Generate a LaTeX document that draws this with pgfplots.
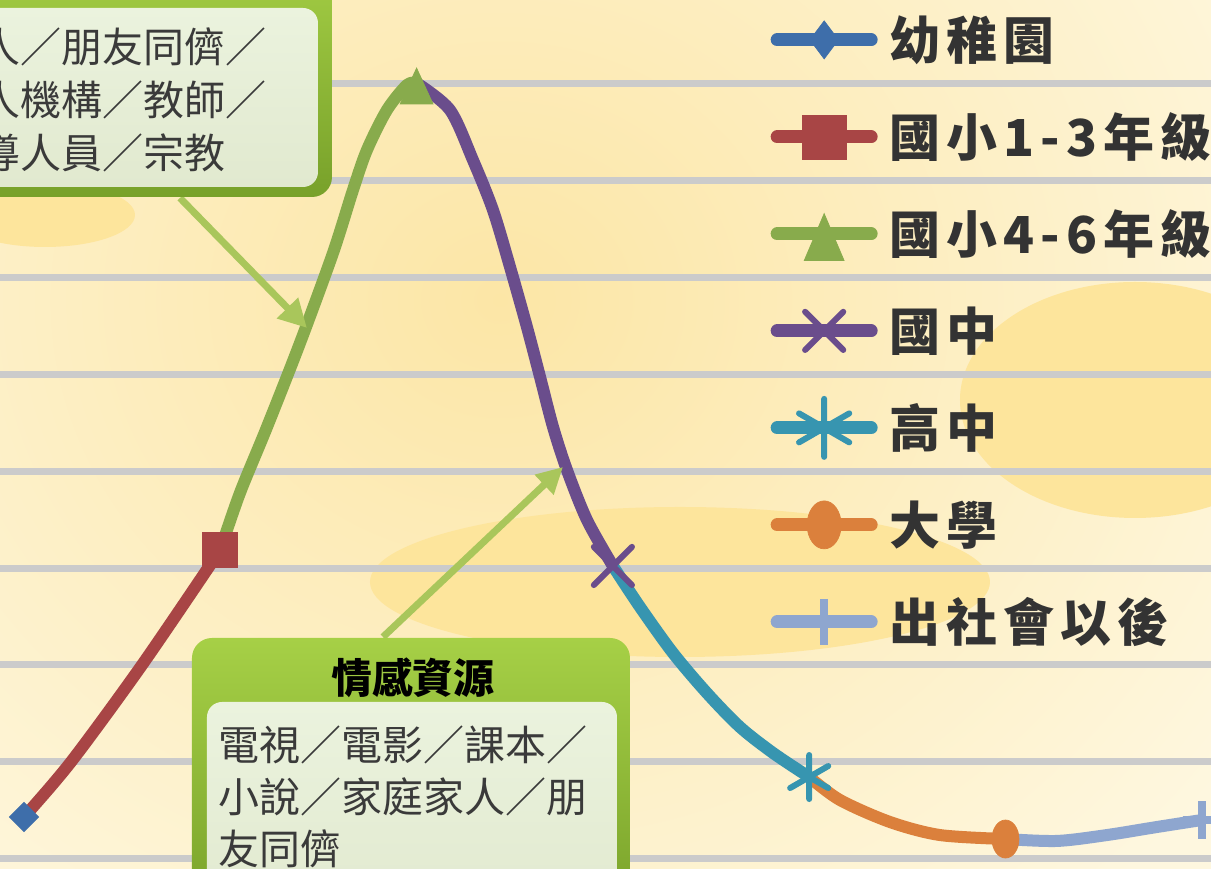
\documentclass[border=0pt]{standalone}
\usepackage{pgfplots}
\pgfplotsset{compat=1.18}
\usepackage{fontspec}
\usetikzlibrary{arrows.meta}
\newfontfamily\cjk{Noto Sans CJK TC}
\newfontfamily\cjkleg{Noto Sans CJK TC}[LetterSpace=12, BoldFont={Noto Sans CJK TC Black}]
\definecolor{cblue}{HTML}{3E6EAA}
\definecolor{cred}{HTML}{A84545}
\definecolor{cgreen}{HTML}{88AB4C}
\definecolor{cpurple}{HTML}{6A4D8C}
\definecolor{cteal}{HTML}{3795B0}
\definecolor{corange}{HTML}{DB803C}
\definecolor{clblue}{HTML}{8EA6CF}
\definecolor{gridc}{HTML}{CBCBCB}
\definecolor{txt}{HTML}{333333}
\definecolor{boxtxt}{HTML}{3A3A3A}
\definecolor{arrowc}{HTML}{A9C65B}
\definecolor{gtop}{HTML}{A6D046}
\definecolor{gbot}{HTML}{78A12A}
\definecolor{intop}{HTML}{EBF3DE}
\definecolor{inbot}{HTML}{E1E9CF}
\definecolor{bgin}{HTML}{FCE6A6}
\definecolor{bgout}{HTML}{FEF7DF}
\definecolor{blob}{HTML}{FDE59C}
\begin{document}
\begin{tikzpicture}
\useasboundingbox (0,0) rectangle (121.1mm,86.9mm);
\clip (0,0) rectangle (121.1mm,86.9mm);
\begin{scope}[x=1mm,y=1mm]
\shade[inner color=bgin, outer color=bgout] (-40,-23.1) rectangle (140,136.9);
\fill[blob] (68,28.7) ellipse [x radius=31, y radius=7.5];
\fill[blob] (113.5,46.9) ellipse [x radius=17.5, y radius=11.8];
\fill[blob] (4.5,65.4) ellipse [x radius=9, y radius=3.2];
\end{scope}
\begin{axis}[
  at={(0,0)}, anchor=south west,
  scale only axis, width=121.1mm, height=86.9mm,
  xmin=-0.1223, xmax=6.047, ymin=-0.103, ymax=8.856,
  axis line style={draw=none},
  major tick length=0pt,
  xtick=\empty, ytick=\empty,
  legend style={
    at={(rel axis cs:0.6358,1.0099)}, anchor=north west,
    draw=none, fill=none, inner sep=0pt, outer sep=0pt,
    row sep=0pt, column sep=1.1mm,
    font=\cjkleg\bfseries\fontsize{14.5pt}{14.5pt}\selectfont,
    text=txt,
    nodes={inner sep=0pt, outer sep=0pt, text height=6.8mm, text depth=2.9mm},
  },
  legend cell align=left,
  legend image code/.code={%
    \path (0mm,-1mm) (10.7mm,1mm);
    \draw[#1, mark=none, line width=1.3mm, line cap=round] (0.65mm,0mm) -- (10.05mm,0mm);
    \draw[#1] plot coordinates {(5.35mm,0mm)};
  },
]
% horizontal grid lines
\pgfplotsinvokeforeach{0,1,2,3,4,5,6,7,8}{
  \draw[gridc, line width=0.7mm] (axis cs:-1,#1) -- (axis cs:7,#1);
}
% curve segments
\addplot[forget plot, cred, line width=1.2mm, smooth, line join=round] coordinates {(0,0.433) (0.239,1.0) (0.601,2.0) (1,3.186)};
\addplot[forget plot, cgreen, line width=1.2mm, smooth, line join=round] coordinates {(1,3.186) (1.100,3.773) (1.238,4.454) (1.406,5.320) (1.574,6.247) (1.676,6.897) (1.747,7.309) (1.849,7.722) (1.951,7.98) (2,8.0)};
\addplot[forget plot, cpurple, line width=1.2mm, smooth, line join=round] coordinates {(2,8.0) (2.170,7.722) (2.287,7.206) (2.389,6.691) (2.476,6.103) (2.562,5.485) (2.629,4.969) (2.695,4.454) (2.766,4.010) (2.868,3.495) (3,3.021)};
\addplot[forget plot, cteal, line width=1.2mm, smooth, line join=round] coordinates {(3,3.021) (3.138,2.598) (3.306,2.124) (3.479,1.711) (3.647,1.361) (3.816,1.093) (4,0.845)};
\addplot[forget plot, corange, line width=1.2mm, smooth, line join=round] coordinates {(4,0.845) (4.157,0.608) (4.412,0.381) (4.666,0.247) (5,0.206)};
\addplot[forget plot, clblue, line width=1.2mm, smooth, line join=round] coordinates {(5,0.206) (5.262,0.186) (5.517,0.247) (5.772,0.330) (6,0.402)};
% markers
\addplot[forget plot, only marks, cblue, mark=square*, mark size=1.03mm, mark options={rotate=45, line width=0.2pt}] coordinates {(0,0.433)};
\addplot[forget plot, only marks, cred, mark=square*, mark size=1.75mm, mark options={line width=0.2pt}] coordinates {(1,3.186)};
\addplot[forget plot, only marks, cgreen, mark=triangle*, mark size=1.9mm, mark options={yshift=-0.9mm, yscale=1.26, line width=0.2pt}] coordinates {(2,8.0)};
\addplot[forget plot, only marks, cpurple, mark=x, mark size=2.7mm, mark options={line width=0.6mm, line cap=round}] coordinates {(3,3.021)};
\addplot[forget plot, only marks, cteal, mark=asterisk, mark size=2.2mm, mark options={line width=0.6mm, line cap=round}] coordinates {(4,0.845)};
\addplot[forget plot, only marks, corange, mark=*, mark size=1.9mm, mark options={xscale=0.71, line width=0.2pt}] coordinates {(5,0.206)};
\addplot[forget plot, only marks, clblue, mark=+, mark size=1.9mm, mark options={line width=0.8mm}] coordinates {(6,0.402)};
% legend
\addlegendimage{cblue, mark=diamond*, mark size=1.9mm, mark options={line width=0.2pt}}
\addlegendentry{幼稚園}
\addlegendimage{cred, mark=square*, mark size=2.2mm, mark options={line width=0.2pt}}
\addlegendentry{國小1-3年級}
\addlegendimage{cgreen, mark=triangle*, mark size=2.3mm, mark options={yshift=-1.1mm, yscale=1.36, line width=0.2pt}}
\addlegendentry{國小4-6年級}
\addlegendimage{cpurple, mark=x, mark size=2.7mm, mark options={line width=0.6mm, line cap=round}}
\addlegendentry{國中}
\addlegendimage{cteal, mark=asterisk, mark size=2.9mm, mark options={line width=0.6mm, line cap=round}}
\addlegendentry{高中}
\addlegendimage{corange, mark=*, mark size=2.4mm, mark options={xscale=0.71, line width=0.2pt}}
\addlegendentry{大學}
\addlegendimage{clblue, mark=+, mark size=2.3mm, mark options={line width=0.8mm}}
\addlegendentry{出社會以後}
\end{axis}
\begin{scope}[x=1mm,y=1mm]
% arrows
\draw[arrowc, line width=0.7mm, -{Triangle[length=2.8mm,width=2.8mm]}] (18.0,67.1) -- (30.7,54.1);
\draw[arrowc, line width=0.7mm, -{Triangle[length=2.6mm,width=2.6mm]}] (38.3,23.2) -- (56.3,40.2);
% top-left box
\shade[top color=gtop, bottom color=gbot, rounded corners=2mm] (-6,67.2) rectangle (33.2,92);
\shade[top color=intop, bottom color=inbot, rounded corners=1.5mm] (-6,68.2) rectangle (31.8,86.1);
\begin{scope}[every node/.style={anchor=base west, inner sep=0pt, text=boxtxt, font=\cjk\fontsize{11.66pt}{14pt}\selectfont}]
\node at (-2.1,80.6) {人／朋友同儕／};
\node at (-2.1,75.3) {人機構／教師／};
\node at (-2.1,70.0) {導人員／宗教};
\end{scope}
% bottom box
\shade[top color=gtop, bottom color=gbot, rounded corners=2mm] (19.2,-5) rectangle (63.0,23.1);
\shade[top color=intop, bottom color=inbot, rounded corners=1.5mm] (20.7,-5) rectangle (61.7,16.7);
\node[anchor=base, inner sep=0pt, text=black, font=\cjk\bfseries\fontsize{11.66pt}{14pt}\selectfont] at (41.3,17.5) {情感資源};
\begin{scope}[every node/.style={anchor=base west, inner sep=0pt, text=boxtxt, font=\cjk\fontsize{11.66pt}{14pt}\selectfont}]
\node at (21.8,10.8) {電視／電影／課本／};
\node at (21.8,5.6) {小說／家庭家人／朋};
\node at (21.8,0.4) {友同儕};
\end{scope}
\end{scope}
\end{tikzpicture}
\end{document}
